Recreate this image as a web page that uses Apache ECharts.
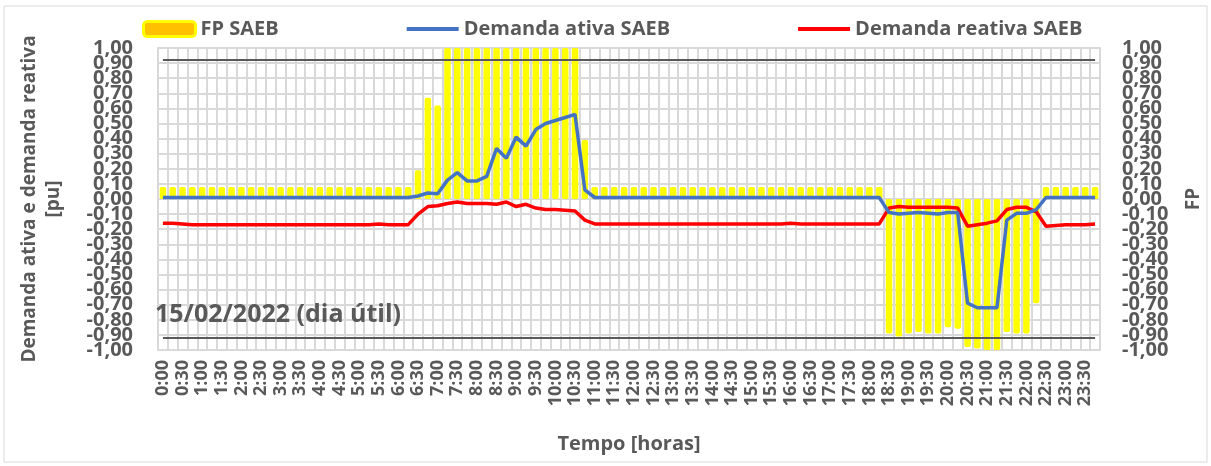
<!DOCTYPE html>
<html>
<head>
<meta charset="utf-8">
<script src="https://cdn.jsdelivr.net/npm/echarts@6/dist/echarts.min.js"></script>
<style>
  html, body { margin: 0; padding: 0; background: #fff; }
  #chart { width: 1211px; height: 466px; }
</style>
</head>
<body>
<div id="chart"></div>
<script>
// horarios de 15 em 15 minutos
const horas = [
  '0:00','0:15','0:30','0:45','1:00','1:15','1:30','1:45','2:00','2:15','2:30','2:45',
  '3:00','3:15','3:30','3:45','4:00','4:15','4:30','4:45','5:00','5:15','5:30','5:45',
  '6:00','6:15','6:30','6:45','7:00','7:15','7:30','7:45','8:00','8:15','8:30','8:45',
  '9:00','9:15','9:30','9:45','10:00','10:15','10:30','10:45','11:00','11:15','11:30','11:45',
  '12:00','12:15','12:30','12:45','13:00','13:15','13:30','13:45','14:00','14:15','14:30','14:45',
  '15:00','15:15','15:30','15:45','16:00','16:15','16:30','16:45','17:00','17:15','17:30','17:45',
  '18:00','18:15','18:30','18:45','19:00','19:15','19:30','19:45','20:00','20:15','20:30','20:45',
  '21:00','21:15','21:30','21:45','22:00','22:15','22:30','22:45','23:00','23:15','23:30','23:45'
];

// FP SAEB (eixo secundario)
const fp = [
  0.08,0.08,0.08,0.08,0.08,0.08,0.08,0.08,0.08,0.08,0.08,0.08,
  0.08,0.08,0.08,0.08,0.08,0.08,0.08,0.08,0.08,0.08,0.08,0.08,
  0.08,0.08,0.19,0.67,0.62,1.00,1.00,1.00,1.00,1.00,1.00,1.00,
  1.00,1.00,1.00,1.00,1.00,1.00,1.00,0.39,0.08,0.08,0.08,0.08,
  0.08,0.08,0.08,0.08,0.08,0.08,0.08,0.08,0.08,0.08,0.08,0.08,
  0.08,0.08,0.08,0.08,0.08,0.08,0.08,0.08,0.08,0.08,0.08,0.08,
  0.08,0.08,-0.89,-0.91,-0.89,-0.88,-0.89,-0.89,-0.85,-0.86,-0.98,-0.99,
  -1.00,-1.00,-0.88,-0.89,-0.89,-0.69,0.08,0.08,0.08,0.08,0.08,0.08
];

// demanda ativa SAEB [pu]
const ativa = [
  0.01,0.01,0.01,0.01,0.01,0.01,0.01,0.01,0.01,0.01,0.01,0.01,
  0.01,0.01,0.01,0.01,0.01,0.01,0.01,0.01,0.01,0.01,0.01,0.01,
  0.01,0.01,0.02,0.04,0.035,0.125,0.175,0.12,0.12,0.15,0.335,0.27,
  0.41,0.35,0.46,0.50,0.52,0.54,0.56,0.06,0.01,0.01,0.01,0.01,
  0.01,0.01,0.01,0.01,0.01,0.01,0.01,0.01,0.01,0.01,0.01,0.01,
  0.01,0.01,0.01,0.01,0.01,0.01,0.01,0.01,0.01,0.01,0.01,0.01,
  0.01,0.01,-0.09,-0.10,-0.095,-0.09,-0.095,-0.10,-0.09,-0.09,-0.69,-0.72,
  -0.72,-0.72,-0.14,-0.095,-0.095,-0.07,0.01,0.01,0.01,0.01,0.01,0.01
];

// demanda reativa SAEB [pu]
const reativa = [
  -0.16,-0.16,-0.165,-0.17,-0.17,-0.17,-0.17,-0.17,-0.17,-0.17,-0.17,-0.17,
  -0.17,-0.17,-0.17,-0.17,-0.17,-0.17,-0.17,-0.17,-0.17,-0.17,-0.165,-0.17,
  -0.17,-0.17,-0.10,-0.05,-0.045,-0.03,-0.02,-0.03,-0.03,-0.03,-0.035,-0.02,
  -0.05,-0.035,-0.06,-0.07,-0.07,-0.075,-0.08,-0.14,-0.165,-0.165,-0.165,-0.165,
  -0.165,-0.165,-0.165,-0.165,-0.165,-0.165,-0.165,-0.165,-0.165,-0.165,-0.165,-0.165,
  -0.165,-0.165,-0.165,-0.165,-0.16,-0.165,-0.165,-0.165,-0.165,-0.165,-0.165,-0.165,
  -0.165,-0.165,-0.06,-0.05,-0.055,-0.055,-0.055,-0.055,-0.055,-0.06,-0.18,-0.17,
  -0.16,-0.145,-0.07,-0.055,-0.055,-0.085,-0.18,-0.175,-0.17,-0.17,-0.17,-0.165
];

// limites de FP
const limites = [0.92, -0.92];

const cinza = '#595959';
const fonte = 'Open Sans';

const fmt = v => {
  let s = (Math.round(v * 100) / 100).toFixed(2);
  if (s === '-0.00') s = '0.00';
  return s.replace('.', ',');
};
// so os extremos (-1 e 1), num eixo sobreposto, porque o eixo principal os esconde
const fmtExtremos = v => (Math.abs(Math.abs(v) - 1) < 1e-9 ? fmt(v) : '');

const rotuloY = { color: cinza, fontWeight: 'bold', fontSize: 20 };

// eixo y padrao -1..1
const eixoY = (pos, extra) => Object.assign({
  type: 'value',
  position: pos,
  min: -1,
  max: 1,
  interval: 0.1,
  axisTick: { show: false },
  splitLine: { show: false }
}, extra);

const myChart = echarts.init(document.getElementById('chart'));

let option = {
  animation: false,
  textStyle: { fontFamily: fonte },
  graphic: [
    {
      type: 'rect',
      shape: { x: 4, y: 6, width: 1203, height: 456 },
      style: { fill: 'none', stroke: '#D9D9D9', lineWidth: 1 },
      silent: true
    },
    {
      type: 'text',
      left: 155,
      top: 302,
      z: 100,
      style: {
        text: '15/02/2022 (dia útil)',
        fill: cinza,
        font: 'bold 25px "Open Sans"'
      }
    }
  ],
  legend: {
    left: 137,
    top: 14,
    itemGap: 126,
    itemWidth: 52,
    itemHeight: 15,
    textStyle: { color: cinza, fontWeight: 'bold', fontSize: 20, fontFamily: fonte },
    data: [
      { name: 'FP SAEB', itemStyle: { color: '#FFC000', borderColor: '#FFFF00', borderWidth: 3 } },
      { name: 'Demanda ativa SAEB', itemStyle: { opacity: 0 }, lineStyle: { width: 4 } },
      { name: 'Demanda reativa SAEB', itemStyle: { opacity: 0 }, lineStyle: { width: 4 } }
    ]
  },
  grid: { left: 158, right: 109, top: 48, bottom: 116 },
  xAxis: {
    type: 'category',
    data: horas,
    boundaryGap: true,
    name: 'Tempo [horas]',
    nameLocation: 'middle',
    nameGap: 84,
    nameTextStyle: { color: cinza, fontWeight: 'bold', fontSize: 20 },
    axisLine: { onZero: false, lineStyle: { color: '#D9D9D9', width: 2 } },
    axisTick: { show: false },
    axisLabel: {
      interval: 1,
      rotate: 90,
      margin: 10,
      color: cinza,
      fontWeight: 'bold',
      fontSize: 18
    },
    splitLine: { show: true, interval: 0, lineStyle: { color: '#D9D9D9', width: 2 } }
  },
  yAxis: [
    eixoY('left', {
      name: 'Demanda ativa e demanda reativa\n[pu]',
      nameLocation: 'middle',
      nameRotate: 90,
      nameGap: 92,
      nameTextStyle: { color: cinza, fontWeight: 'bold', fontSize: 19, lineHeight: 24 },
      axisLine: { show: true, lineStyle: { color: '#D9D9D9', width: 2 } },
      axisLabel: Object.assign({ margin: 25, formatter: fmt }, rotuloY),
      splitLine: { show: true, lineStyle: { color: '#D9D9D9', width: 2 } }
    }),
    eixoY('right', {
      name: 'FP',
      nameLocation: 'middle',
      nameRotate: 90,
      nameGap: 84,
      nameTextStyle: { color: cinza, fontWeight: 'bold', fontSize: 19 },
      axisLine: { show: true, lineStyle: { color: '#D9D9D9', width: 2 } },
      axisLabel: Object.assign({ margin: 22, formatter: fmt }, rotuloY)
    }),
    eixoY('left', {
      axisLine: { show: false },
      axisLabel: Object.assign({ margin: 25, showMinLabel: true, showMaxLabel: true, formatter: fmtExtremos }, rotuloY)
    }),
    eixoY('right', {
      axisLine: { show: false },
      axisLabel: Object.assign({ margin: 22, showMinLabel: true, showMaxLabel: true, formatter: fmtExtremos }, rotuloY)
    })
  ],
  series: [
    {
      name: 'FP SAEB',
      type: 'bar',
      yAxisIndex: 1,
      data: fp,
      barWidth: 6.5,
      itemStyle: { color: '#FFFF00', borderColor: '#FFFF00', borderWidth: 1.5, borderRadius: 1 },
      z: 2
    },
    {
      name: 'Demanda ativa SAEB',
      type: 'line',
      yAxisIndex: 0,
      data: ativa,
      symbol: 'none',
      lineStyle: { color: '#4472C4', width: 3.5 },
      itemStyle: { color: '#4472C4' },
      z: 4
    },
    {
      name: 'Demanda reativa SAEB',
      type: 'line',
      yAxisIndex: 0,
      data: reativa,
      symbol: 'none',
      lineStyle: { color: '#FF0000', width: 3.5 },
      itemStyle: { color: '#FF0000' },
      z: 3,
      markLine: {
        silent: true,
        symbol: 'none',
        label: { show: false },
        lineStyle: { color: cinza, width: 2, type: 'solid' },
        data: limites.map(v => [
          { coord: [0, v] },
          { coord: [horas.length - 1, v] }
        ])
      }
    }
  ]
};

option && myChart.setOption(option);
</script>
</body>
</html>
